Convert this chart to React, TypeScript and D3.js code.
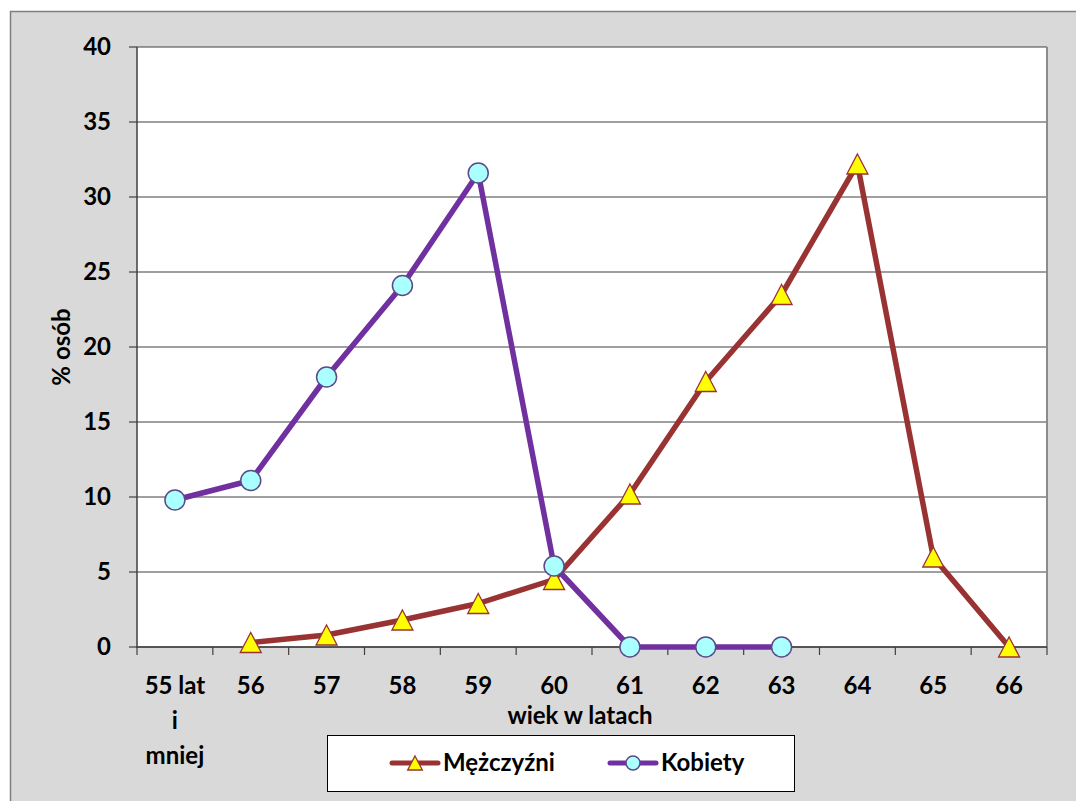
import React from "react";
import * as d3 from "d3";

const categories = ["55 lat i mniej", "56", "57", "58", "59", "60", "61", "62", "63", "64", "65", "66"];
const menValues: (number | null)[] = [null, 0.3, 0.8, 1.8, 2.9, 4.5, 10.2, 17.7, 23.5, 32.2, 6.0, 0];
const womenValues: (number | null)[] = [9.8, 11.1, 18.0, 24.1, 31.6, 5.4, 0, 0, 0, null, null, null];
const yTicks = [0, 5, 10, 15, 20, 25, 30, 35, 40];
const seriesNames = ["Mężczyźni", "Kobiety"];

const W = 1076, H = 801;
const plot = { left: 137, top: 47, right: 1047, bottom: 647 };
const FONT = "Lato, 'Open Sans', sans-serif";
const FS = 24;
const FW = "bold";
const MEN_COLOR = "#993333";
const WOMEN_COLOR = "#7030a0";

function triPath(cx: number, cy: number, s = 10) {
  return `M${cx},${cy - s} L${cx + s * 1.05},${cy + s} L${cx - s * 1.05},${cy + s} Z`;
}

export default function App() {
  const x = d3.scaleBand<string>().domain(categories).range([plot.left, plot.right]);
  const y = d3.scaleLinear().domain([0, 40]).range([plot.bottom, plot.top]);
  const cx = (i: number) => (x(categories[i]) as number) + x.bandwidth() / 2;

  const line = d3
    .line<number | null>()
    .defined((d) => d !== null)
    .x((_, i) => cx(i))
    .y((d) => y(d as number));

  const boundaries = d3.range(categories.length + 1).map((i) => plot.left + i * x.bandwidth());

  return (
    <svg width={W} height={H} style={{ position: "absolute", left: 0, top: 0 }} fontFamily={FONT}>
      <rect x={10.5} y={11.5} width={1100} height={900} fill="#d9d9d9" stroke="#7f7f7f" strokeWidth={1.5} />
      <rect x={plot.left} y={plot.top} width={plot.right - plot.left} height={plot.bottom - plot.top} fill="#fff" />
      {yTicks.map((t) => (
        <line key={t} x1={plot.left} x2={plot.right} y1={y(t)} y2={y(t)} stroke="#404040" strokeWidth={1.2} />
      ))}
      <line x1={plot.right} x2={plot.right} y1={plot.top} y2={plot.bottom} stroke="#8c8c8c" strokeWidth={2} />
      <line x1={plot.left} x2={plot.left} y1={plot.top} y2={plot.bottom + 1} stroke="#404040" strokeWidth={1.5} />
      {yTicks.map((t) => (
        <g key={"yt" + t}>
          <line x1={plot.left - 8} x2={plot.left} y1={y(t)} y2={y(t)} stroke="#404040" strokeWidth={1.2} />
          <text x={111} y={y(t)} dy="0.35em" textAnchor="end" fontSize={FS} fontWeight={FW} fill="#000">
            {t}
          </text>
        </g>
      ))}
      <line x1={plot.left} x2={plot.right} y1={plot.bottom} y2={plot.bottom} stroke="#404040" strokeWidth={1.5} />
      {boundaries.map((b, i) => (
        <line key={"xb" + i} x1={b} x2={b} y1={plot.bottom} y2={plot.bottom + 8} stroke="#404040" strokeWidth={1.2} />
      ))}
      {categories.map((c, i) => {
        const parts = i === 0 ? ["55 lat", "i", "mniej"] : [c];
        return (
          <text key={"xl" + i} textAnchor="middle" fontSize={FS} fontWeight={FW} fill="#000">
            {parts.map((p, j) => (
              <tspan key={j} x={cx(i)} y={694 + j * 35}>
                {p}
              </tspan>
            ))}
          </text>
        );
      })}
      <text x={580} y={724} textAnchor="middle" fontSize={FS} fontWeight={FW} fill="#000">
        wiek w latach
      </text>
      <text
        transform={`translate(70,347) rotate(-90)`}
        textAnchor="middle"
        fontSize={FS}
        fontWeight={FW}
        fill="#000"
      >
        % osób
      </text>
      <path d={line(menValues) || ""} fill="none" stroke={MEN_COLOR} strokeWidth={5.5} strokeLinejoin="round" />
      <path d={line(womenValues) || ""} fill="none" stroke={WOMEN_COLOR} strokeWidth={5.5} strokeLinejoin="round" />
      {menValues.map((v, i) =>
        v === null ? null : (
          <path key={"m" + i} d={triPath(cx(i), y(v))} fill="#ffff00" stroke={MEN_COLOR} strokeWidth={1.3} />
        )
      )}
      {womenValues.map((v, i) =>
        v === null ? null : (
          <circle key={"w" + i} cx={cx(i)} cy={y(v)} r={10} fill="#aaffff" stroke="#5b4a8a" strokeWidth={1.5} />
        )
      )}
      <rect x={327.5} y={735.5} width={467} height={56} fill="#fff" stroke="#000" strokeWidth={1} />
      <g>
        <line x1={392} x2={438} y1={763} y2={763} stroke={MEN_COLOR} strokeWidth={5} strokeLinecap="round" />
        <path d={triPath(415, 763, 7)} fill="#ffff00" stroke={MEN_COLOR} strokeWidth={1.3} />
        <text x={443} y={763} dy="0.35em" fontSize={FS} fontWeight={FW} fill="#000">
          {seriesNames[0]}
        </text>
        <line x1={610} x2={656} y1={763} y2={763} stroke={WOMEN_COLOR} strokeWidth={5} strokeLinecap="round" />
        <circle cx={633} cy={763} r={7} fill="#aaffff" stroke="#5b4a8a" strokeWidth={1.5} />
        <text x={661} y={763} dy="0.35em" fontSize={FS} fontWeight={FW} fill="#000">
          {seriesNames[1]}
        </text>
      </g>
    </svg>
  );
}
